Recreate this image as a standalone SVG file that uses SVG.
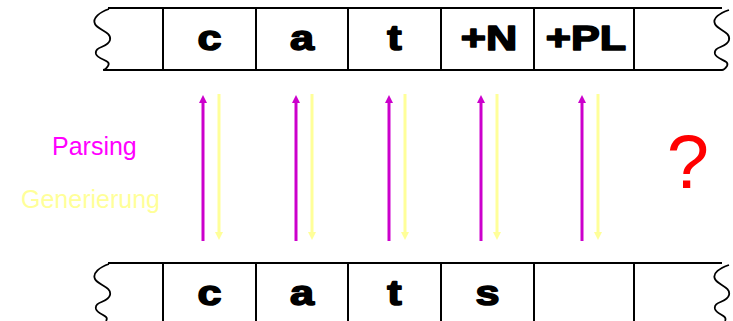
<svg xmlns="http://www.w3.org/2000/svg" width="733" height="321" viewBox="0 0 733 321">
<style>
.ln{stroke:#000;stroke-width:2;fill:none}
.wv{stroke:#000;stroke-width:1.8;fill:none}
.cell{font-family:"Liberation Sans",Arial,sans-serif;font-weight:bold;font-size:36px;text-anchor:middle;fill:#000;stroke:#000;stroke-width:1.6;stroke-linejoin:round}
.p{stroke:#CC00CC;stroke-width:3}
.g{stroke:#FFFF99;stroke-width:3}
</style>
<defs>
<marker id="mp" markerWidth="8" markerHeight="8" refX="4" refY="4" orient="auto" markerUnits="userSpaceOnUse" viewBox="0 0 8 8"><path d="M0,8 L4,0 L8,8 Z" fill="#CC00CC" transform="rotate(90 4 4)"/></marker>
<marker id="mg" markerWidth="8" markerHeight="8" refX="4" refY="4" orient="auto" markerUnits="userSpaceOnUse" viewBox="0 0 8 8"><path d="M0,8 L4,0 L8,8 Z" fill="#FFFF99" transform="rotate(90 4 4)"/></marker>
</defs>
<g id="tape-top">
<line class="ln" x1="108" y1="8" x2="722" y2="8"/>
<line class="ln" x1="104" y1="70" x2="722" y2="70"/>
<line class="ln" x1="163" y1="8" x2="163" y2="70"/>
<line class="ln" x1="256" y1="8" x2="256" y2="70"/>
<line class="ln" x1="348" y1="8" x2="348" y2="70"/>
<line class="ln" x1="441" y1="8" x2="441" y2="70"/>
<line class="ln" x1="534" y1="8" x2="534" y2="70"/>
<line class="ln" x1="634" y1="8" x2="634" y2="70"/>
<path class="wv" d="M109,9 C100,12 92,18 95,24 C98,30 112,32 110,40 C108,48 94,46 96,54 C98,60 112,60 108,66 C106,69 104,70 103,70"/>
<path class="wv" d="M729,10 C720,13 712,18 715,24 C718,30 731,32 729,40 C727,48 713,46 715,54 C717,60 730,60 727,66 C725,69 723,70 722,70"/>
<text class="cell" transform="translate(209.5,50) scale(1.2,1)">c</text>
<text class="cell" transform="translate(302,50) scale(1.2,1)">a</text>
<text class="cell" transform="translate(394.5,50) scale(1.2,1)">t</text>
<text class="cell" transform="translate(489,50) scale(1.2,1)">+N</text>
<text class="cell" transform="translate(586,50) scale(1.2,1)">+PL</text>
</g>
<g id="tape-bottom">
<line class="ln" x1="108" y1="263" x2="722" y2="263"/>
<line class="ln" x1="163" y1="263" x2="163" y2="321"/>
<line class="ln" x1="256" y1="263" x2="256" y2="321"/>
<line class="ln" x1="348" y1="263" x2="348" y2="321"/>
<line class="ln" x1="441" y1="263" x2="441" y2="321"/>
<line class="ln" x1="534" y1="263" x2="534" y2="321"/>
<line class="ln" x1="634" y1="263" x2="634" y2="321"/>
<path class="wv" d="M109,264 C100,267 92,273 95,279 C98,285 112,287 110,295 C108,303 94,301 96,309 C98,315 110,315 106,321"/>
<path class="wv" d="M729,265 C720,268 712,273 715,279 C718,285 731,287 729,295 C727,303 713,301 715,309 C717,315 728,315 725,321"/>
<text class="cell" transform="translate(209.5,305) scale(1.2,1)">c</text>
<text class="cell" transform="translate(302,305) scale(1.2,1)">a</text>
<text class="cell" transform="translate(394.5,305) scale(1.2,1)">t</text>
<text class="cell" transform="translate(487.5,305) scale(1.2,1)">s</text>
</g>
<g id="connectors">
<line class="p" x1="203" y1="241" x2="203" y2="99" marker-end="url(#mp)"/>
<line class="g" x1="219" y1="94" x2="219" y2="236" marker-end="url(#mg)"/>
<line class="p" x1="296" y1="241" x2="296" y2="99" marker-end="url(#mp)"/>
<line class="g" x1="312" y1="94" x2="312" y2="236" marker-end="url(#mg)"/>
<line class="p" x1="389" y1="241" x2="389" y2="99" marker-end="url(#mp)"/>
<line class="g" x1="405" y1="94" x2="405" y2="236" marker-end="url(#mg)"/>
<line class="p" x1="481" y1="241" x2="481" y2="99" marker-end="url(#mp)"/>
<line class="g" x1="497" y1="94" x2="497" y2="236" marker-end="url(#mg)"/>
<line class="p" x1="582" y1="241" x2="582" y2="99" marker-end="url(#mp)"/>
<line class="g" x1="598" y1="94" x2="598" y2="236" marker-end="url(#mg)"/>
</g>
<g id="labels">
<text x="52" y="155" font-family="Liberation Sans,Arial,sans-serif" font-size="25" fill="#FF00FF">Parsing</text>
<text x="21" y="208" font-family="Liberation Sans,Arial,sans-serif" font-size="25" fill="#FFFF99">Generierung</text>
<text x="688" y="188" font-family="Liberation Sans,Arial,sans-serif" font-size="76" fill="#FF0000" text-anchor="middle">?</text>
</g>
</svg>
